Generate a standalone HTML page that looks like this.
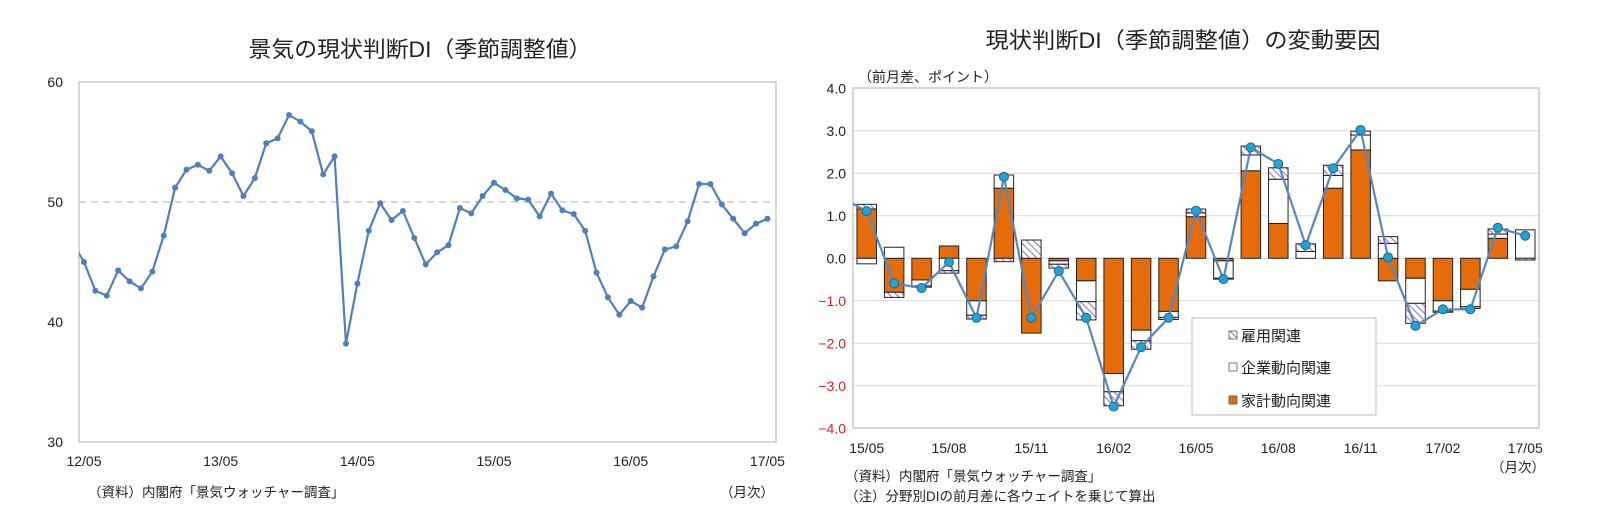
<!DOCTYPE html>
<html><head><meta charset="utf-8"><style>
html,body{margin:0;padding:0;background:#fff;}
svg{display:block;font-family:"Liberation Sans","Noto Sans CJK JP",sans-serif;}
</style></head><body>
<svg id="chart" width="1604" height="517" viewBox="0 0 1604 517" xmlns="http://www.w3.org/2000/svg">
<defs>
<pattern id="hatch" patternUnits="userSpaceOnUse" width="5" height="5" patternTransform="rotate(-45)">
<rect width="5" height="5" fill="#ffffff"/>
<line x1="0" y1="0" x2="0" y2="5" stroke="#9a80d0" stroke-width="2.4"/>
</pattern>
<clipPath id="clipL"><rect x="79" y="82" width="697" height="360"/></clipPath>
<clipPath id="clipR"><rect x="853" y="88" width="686" height="340"/></clipPath>
</defs>
<g id="left"></g>
<g id="right"></g>
</svg>
<script>
// ---- Left chart data ----
const leftValues = [45.0,42.6,42.2,44.3,43.4,42.8,44.2,47.2,51.2,52.7,53.1,52.6,53.8,52.4,50.5,52.0,54.9,55.3,57.25,56.7,55.9,52.3,53.8,38.2,43.2,47.6,49.9,48.5,49.25,47.0,44.8,45.8,46.4,49.5,49.05,50.5,51.6,51.0,50.3,50.2,48.8,50.7,49.3,49.0,47.6,44.1,42.05,40.6,41.75,41.2,43.8,46.05,46.3,48.4,51.5,51.5,49.8,48.6,47.4,48.2,48.6];
const leftPrevValue = 46.6;
const leftYTicks = [30,40,50,60];
const leftXLabels = ["12/05","13/05","14/05","15/05","16/05","17/05"];

// ---- Right chart data ----
const rightCategories = ["15/05","15/06","15/07","15/08","15/09","15/10","15/11","15/12","16/01","16/02","16/03","16/04","16/05","16/06","16/07","16/08","16/09","16/10","16/11","16/12","17/01","17/02","17/03","17/04","17/05"];
const household = [1.16,-0.80,-0.51,0.29,-1.0,1.65,-1.76,-0.06,-0.53,-2.71,-1.69,-1.25,0.98,-0.06,2.06,0.82,0.0,1.65,2.55,-0.53,-0.47,-1.0,-0.73,0.47,0.0];
const corporate = [-0.13,0.26,-0.14,-0.29,-0.34,0.31,0.0,-0.08,-0.49,-0.43,-0.25,-0.14,0.09,-0.41,0.37,1.04,0.16,0.30,0.35,0.35,-0.59,-0.24,-0.41,0.10,0.67];
const employment = [0.11,-0.12,-0.03,-0.06,-0.09,-0.08,0.43,-0.09,-0.43,-0.33,-0.20,-0.05,0.09,-0.02,0.21,0.27,0.18,0.24,0.09,0.16,-0.47,-0.03,-0.04,0.12,-0.04];
const totalDI = [1.11,-0.59,-0.70,-0.09,-1.40,1.92,-1.40,-0.30,-1.40,-3.49,-2.09,-1.40,1.12,-0.49,2.61,2.22,0.31,2.12,3.02,0.02,-1.59,-1.20,-1.20,0.72,0.53];
const totalPrev = 1.45;
const rightYTicks = [-4,-3,-2,-1,0,1,2,3,4];
const rightXLabels = ["15/05","15/08","15/11","16/02","16/05","16/08","16/11","17/02","17/05"];

const NS = "http://www.w3.org/2000/svg";
function mk(parent, tag, attrs, text){
  const e = document.createElementNS(NS, tag);
  for (const k in attrs) e.setAttribute(k, attrs[k]);
  if (text !== undefined) e.textContent = text;
  parent.appendChild(e);
  return e;
}

// ===== LEFT =====
const L = document.getElementById('left');
const lx = i => 84 + i * 11.39;
const ly = v => 442 - (v - 30) * 12;
let t = mk(L,'text',{x:420,y:57,'text-anchor':'middle','font-size':22,fill:'#222',textLength:343,lengthAdjust:'spacingAndGlyphs'},'景気の現状判断DI（季節調整値）');


let r = mk(L,'rect',{x:79,y:82,width:697,height:360,fill:'none',stroke:'#c8c8c8','stroke-width':1.5});


let g50 = mk(L,'line',{x1:79,x2:776,y1:ly(50),y2:ly(50),stroke:'#c8c8c8','stroke-width':1.5,'stroke-dasharray':'7,5'});


leftYTicks.forEach(v=>{
  const e = mk(L,'text',{x:63,y:ly(v)+5,'text-anchor':'end','font-size':14,fill:'#222'},String(v));
  
  
});
leftXLabels.forEach((s,k)=>{
  const e = mk(L,'text',{x:lx(k*12),y:466,'text-anchor':'middle','font-size':14,fill:'#222'},s);
  
  
});
let pts = [[lx(-1),ly(leftPrevValue)]].concat(leftValues.map((v,i)=>[lx(i),ly(v)]));
let pl = mk(L,'polyline',{points:pts.map(p=>p.join(',')).join(' '),fill:'none',stroke:'#4f7fbf','stroke-width':2.2,'clip-path':'url(#clipL)'});


leftValues.forEach((v,i)=>{
  const c = mk(L,'circle',{cx:lx(i),cy:ly(v),r:3,fill:'#4f7fbf'});
  
  
});
t = mk(L,'text',{x:88,y:497,'font-size':13.5,fill:'#222'},'（資料）内閣府「景気ウォッチャー調査」');


t = mk(L,'text',{x:774,y:497,'text-anchor':'end','font-size':13.5,fill:'#222'},'（月次）');



// ===== RIGHT =====
const R = document.getElementById('right');
const rx = i => 866.7 + i * 27.44;
const ry = v => 258.3 - v * 42.5;
const bw = 19.5;
t = mk(R,'text',{x:1183,y:48,'text-anchor':'middle','font-size':22,fill:'#222',textLength:395,lengthAdjust:'spacingAndGlyphs'},'現状判断DI（季節調整値）の変動要因');


t = mk(R,'text',{x:858,y:82,'font-size':14,fill:'#222'},'（前月差、ポイント）');


rightYTicks.forEach(v=>{
  if (v !== 4 && v !== -4) {
    const gl = mk(R,'line',{x1:853,x2:1539,y1:ry(v),y2:ry(v),stroke:'#d9d9d9','stroke-width':1});
    
    
  }
  const e = mk(R,'text',{x:846,y:ry(v)+5,'text-anchor':'end','font-size':14,fill:v<0?'#e02020':'#222'},v.toFixed(1).replace('-','−'));
  
  
});
r = mk(R,'rect',{x:853,y:88,width:686,height:340,fill:'none',stroke:'#c8c8c8','stroke-width':1.5});


rightXLabels.forEach((s,k)=>{
  const e = mk(R,'text',{x:rx(k*3),y:453,'text-anchor':'middle','font-size':14,fill:'#222'},s);
  
  
});
const series = [
  {vals:household, fill:'#e46c0a', name:'household-bar'},
  {vals:corporate, fill:'#ffffff', name:'corporate-bar'},
  {vals:employment, fill:'url(#hatch)', name:'employment-bar'}
];
rightCategories.forEach((c,i)=>{
  let pos = 0, neg = 0;
  series.forEach(s=>{
    const v = s.vals[i];
    if (v === 0) return;
    let y0, y1;
    if (v > 0) { y0 = pos; y1 = pos + v; pos = y1; }
    else { y0 = neg; y1 = neg + v; neg = y1; }
    const top = Math.min(ry(y0), ry(y1));
    const h = Math.abs(ry(y1) - ry(y0));
    const b = mk(R,'rect',{x:rx(i)-bw/2,y:top,width:bw,height:h,fill:s.fill,stroke:'#222','stroke-width':1});
    
    
  });
});
let rpts = [[rx(-1),ry(totalPrev)]].concat(totalDI.map((v,i)=>[rx(i),ry(v)]));
pl = mk(R,'polyline',{points:rpts.map(p=>p.join(',')).join(' '),fill:'none',stroke:'#5b86bd','stroke-width':2.2,'clip-path':'url(#clipR)'});


totalDI.forEach((v,i)=>{
  const c = mk(R,'circle',{cx:rx(i),cy:ry(v),r:4.5,fill:'#1aa6d8',stroke:'#2f5f8f','stroke-width':1});
  
  
});
// legend
const lg = mk(R,'g',{});


mk(lg,'rect',{x:1192,y:318,width:184,height:97,fill:'#fff',stroke:'#bbb','stroke-width':1});
const legendItems = [['雇用関連','url(#hatch)',335,'legend-employment'],['企業動向関連','#ffffff',367,'legend-corporate'],['家計動向関連','#e46c0a',400,'legend-household']];
legendItems.forEach(it=>{
  const g = mk(lg,'g',{});
  
  
  mk(g,'rect',{x:1229,y:it[2]-4,width:8,height:8,fill:it[1],stroke:'#555','stroke-width':0.8});
  mk(g,'text',{x:1241,y:it[2]+6,'font-size':15,fill:'#222'},it[0]);
});
t = mk(R,'text',{x:845,y:481,'font-size':13.5,fill:'#222'},'（資料）内閣府「景気ウォッチャー調査」');


t = mk(R,'text',{x:845,y:501,'font-size':13.5,fill:'#222'},'（注）分野別DIの前月差に各ウェイトを乗じて算出');


t = mk(R,'text',{x:1545,y:472,'text-anchor':'end','font-size':13.5,fill:'#222'},'（月次）');


</script>
</body></html>
